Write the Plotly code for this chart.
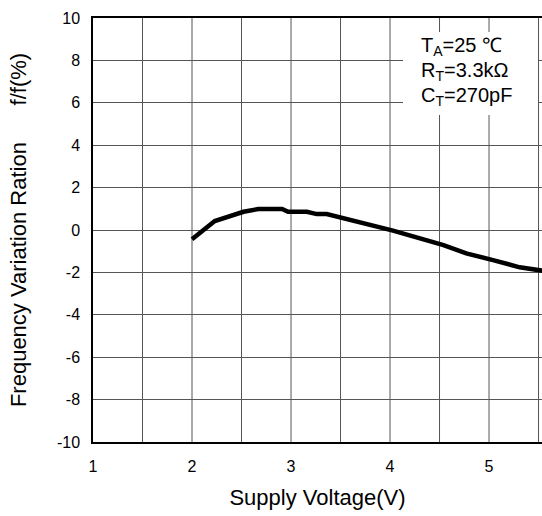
import plotly.graph_objects as go

voltage = [2.0, 2.23, 2.52, 2.67, 2.91, 2.97, 3.16, 3.26, 3.36, 3.53, 3.75, 4.03, 4.54, 4.77, 5.04, 5.31, 5.54]
variation = [-0.44, 0.42, 0.86, 0.99, 0.99, 0.86, 0.86, 0.75, 0.75, 0.55, 0.32, -0.03, -0.71, -1.1, -1.42, -1.76, -1.92]

x_ticks = [1, 2, 3, 4, 5]
y_ticks = [-10, -8, -6, -4, -2, 0, 2, 4, 6, 8, 10]
y_tick_text = ["-10", "-8", "-6", "-4", "-2", "0", "2", "4", "6", "8", "10"]
x_grid = [1.5, 2, 2.5, 3, 3.5, 4, 4.5, 5, 5.5]
cond_lines = ["T<sub>A</sub>=25 ℃", "R<sub>T</sub>=3.3kΩ", "C<sub>T</sub>=270pF"]

FONT = "Liberation Sans, Arial, sans-serif"
GRID = "#555555"

fig = go.Figure()
fig.add_trace(go.Scatter(x=voltage, y=variation, mode="lines",
                         line=dict(color="black", width=4.5), showlegend=False,
                         hoverinfo="skip"))

for gx in x_grid:
    fig.add_shape(type="line", xref="x", yref="paper", x0=gx, x1=gx, y0=0, y1=1,
                  line=dict(color=GRID, width=1), layer="below")

fig.add_shape(type="rect", xref="paper", yref="paper",
              x0=(403 - 93) / 449, x1=(538 - 93) / 449,
              y0=(442 - 115) / 424, y1=(442 - 32) / 424,
              fillcolor="white", line=dict(width=0), layer="above")

for i, t in enumerate(cond_lines):
    yc = 46.7 + 25 * i
    fig.add_annotation(xref="paper", yref="paper", x=(419 - 93) / 449,
                       y=(442 - yc) / 424, text=t, showarrow=False,
                       xanchor="left", yanchor="middle",
                       font=dict(family=FONT, size=20, color="black"))

sp = "\u00a0" * 6
fig.update_layout(
    width=542, height=516,
    margin=dict(l=93, r=0, t=18, b=74),
    paper_bgcolor="white", plot_bgcolor="white",
    font=dict(family=FONT, color="black"),
    xaxis=dict(range=[1, 5.535], tickvals=x_ticks, showgrid=False,
               showline=True, linecolor="black", linewidth=1.5, mirror=True,
               ticks="", ticklabelstandoff=9, zeroline=False,
               tickfont=dict(size=16, family=FONT),
               title=dict(text="Supply Voltage(V)", font=dict(size=22, family=FONT), standoff=16)),
    yaxis=dict(range=[-10, 10], tickvals=y_ticks, ticktext=y_tick_text,
               showgrid=True, gridcolor=GRID, gridwidth=1,
               showline=True, linecolor="black", linewidth=1.5,
               ticks="", ticklabelstandoff=8, zeroline=False,
               tickfont=dict(size=16, family=FONT),
               title=dict(text="Frequency Variation Ration" + sp + "f/f(%)",
                          font=dict(size=22, family=FONT), standoff=24)),
)

fig.write_html("out.html")
